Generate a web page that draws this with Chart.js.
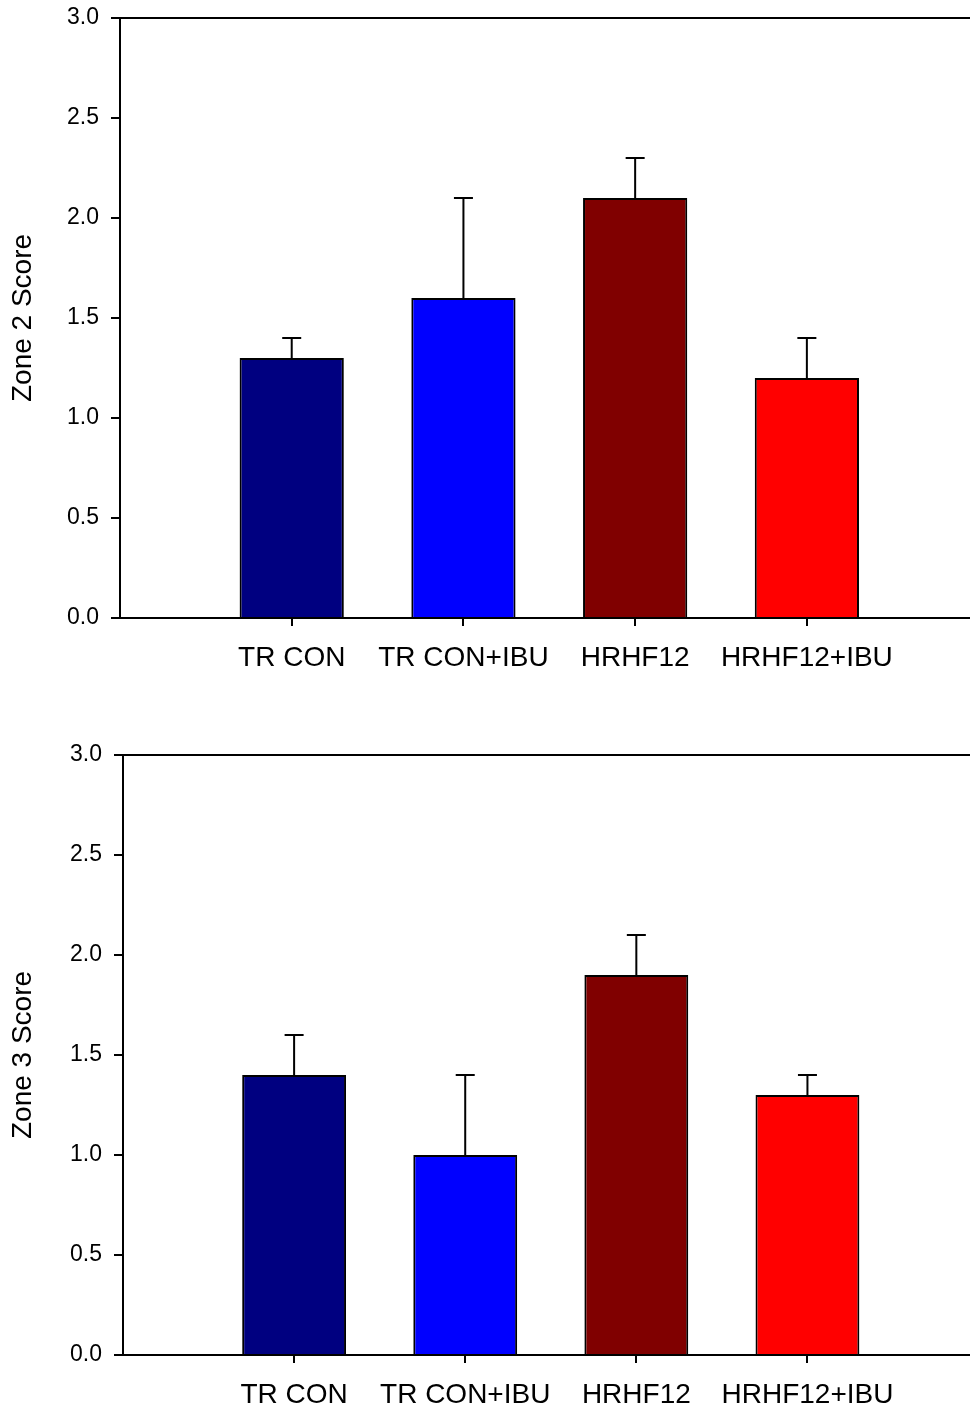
<!DOCTYPE html>
<html>
<head>
<meta charset="utf-8">
<script src="https://cdn.jsdelivr.net/npm/chart.js@4.4.1/dist/chart.umd.min.js"></script>
<style>
  html, body { margin: 0; padding: 0; background: #fff; overflow: hidden; }
  #wrap { position: relative; width: 970px; height: 1410px; }
  .panel { position: absolute; left: 0; width: 970px; }
</style>
</head>
<body>
<div id="wrap">
  <div class="panel" style="top:0; height:700px;"><canvas id="zone2"></canvas></div>
  <div class="panel" style="top:700px; height:710px;"><canvas id="zone3"></canvas></div>
</div>
<script>
// Group names along the x axis
const categories = ["TR CON", "TR CON+IBU", "HRHF12", "HRHF12+IBU"];

// Zone 2 scores: group means and upper error (SEM)
const zone2Means  = [1.3, 1.6, 2.1, 1.2];
const zone2Errors = [0.1, 0.5, 0.2, 0.2];

// Zone 3 scores: group means and upper error (SEM)
const zone3Means  = [1.4, 1.0, 1.9, 1.3];
const zone3Errors = [0.2, 0.4, 0.2, 0.1];

// Y axis range and tick step
const yMin = 0, yMax = 3.0, yStep = 0.5;

// Fill colour for each group
const barColors = ["#000080", "#0000FF", "#800000", "#FF0000"];

const FONT = "'Liberation Sans', Arial, Helvetica, sans-serif";

// Upper-only error bars with a horizontal cap
const errorBarPlugin = {
  id: 'errorBars',
  afterDatasetsDraw(chart, args, opts) {
    const { ctx } = chart;
    const y = chart.scales.y;
    const meta = chart.getDatasetMeta(0);
    const ds = chart.data.datasets[0];
    ctx.save();
    ctx.strokeStyle = '#000';
    ctx.lineWidth = 2;
    meta.data.forEach((bar, i) => {
      const v = ds.data[i].y;
      const top = y.getPixelForValue(v + opts.errors[i]);
      const base = y.getPixelForValue(v);
      ctx.beginPath();
      ctx.moveTo(bar.x, base);
      ctx.lineTo(bar.x, top);
      ctx.moveTo(bar.x - opts.capHalf, top);
      ctx.lineTo(bar.x + opts.capHalf, top);
      ctx.stroke();
    });
    ctx.restore();
  }
};

// Top frame line of the plot area
const topFramePlugin = {
  id: 'topFrame',
  afterDraw(chart) {
    const { ctx, chartArea } = chart;
    ctx.save();
    ctx.strokeStyle = '#000';
    ctx.lineWidth = 2;
    ctx.beginPath();
    ctx.moveTo(chartArea.left, chartArea.top);
    ctx.lineTo(chartArea.right, chartArea.top);
    ctx.stroke();
    ctx.restore();
  }
};

function makeChart(id, means, errors, title, axisWidth, padTop, xHeight) {
  return new Chart(document.getElementById(id), {
    type: 'bar',
    data: {
      datasets: [{
        data: means.map((m, i) => ({ x: i + 1, y: m })),
        backgroundColor: barColors,
        borderColor: '#000',
        borderWidth: 2,
        borderSkipped: 'start',
        barPercentage: 0.607,
        categoryPercentage: 1.0
      }]
    },
    options: {
      responsive: true,
      maintainAspectRatio: false,
      animation: false,
      layout: { padding: { top: padTop, left: 0, right: 0, bottom: 0 } },
      plugins: {
        legend: { display: false },
        tooltip: { enabled: false },
        errorBars: { errors: errors, capHalf: 9.5 }
      },
      scales: {
        x: {
          type: 'linear',
          offset: false,
          min: 0,
          max: 4.95,
          afterBuildTicks: (s) => { s.ticks = categories.map((c, i) => ({ value: i + 1 })); },
          afterFit: (s) => { s.height = xHeight; s.paddingLeft = 0; s.paddingRight = 0; },
          ticks: {
            autoSkip: false,
            maxRotation: 0,
            padding: 15,
            color: '#000',
            font: { family: FONT, size: 28 },
            callback: (v, i) => categories[i]
          },
          grid: {
            offset: false,
            drawOnChartArea: false,
            drawTicks: true,
            tickLength: 8,
            color: '#000',
            lineWidth: 2
          },
          border: { color: '#000', width: 2 }
        },
        y: {
          min: yMin,
          max: yMax,
          afterFit: (s) => { s.width = axisWidth; s.paddingTop = 0; s.paddingBottom = 0; },
          ticks: {
            stepSize: yStep,
            padding: 12,
            color: '#000',
            font: { family: FONT, size: 23 },
            callback: (v) => Number(v).toFixed(1)
          },
          grid: {
            drawOnChartArea: false,
            drawTicks: true,
            tickLength: 9,
            color: '#000',
            lineWidth: 2
          },
          border: { color: '#000', width: 2 },
          title: {
            display: true,
            text: title,
            color: '#000',
            font: { family: FONT, size: 28 },
            padding: { top: 6, bottom: 0 }
          }
        }
      }
    },
    plugins: [errorBarPlugin, topFramePlugin]
  });
}

makeChart('zone2', zone2Means, zone2Errors, 'Zone 2 Score', 120, 18, 82);
makeChart('zone3', zone3Means, zone3Errors, 'Zone 3 Score', 123, 55, 55);
</script>
</body>
</html>
